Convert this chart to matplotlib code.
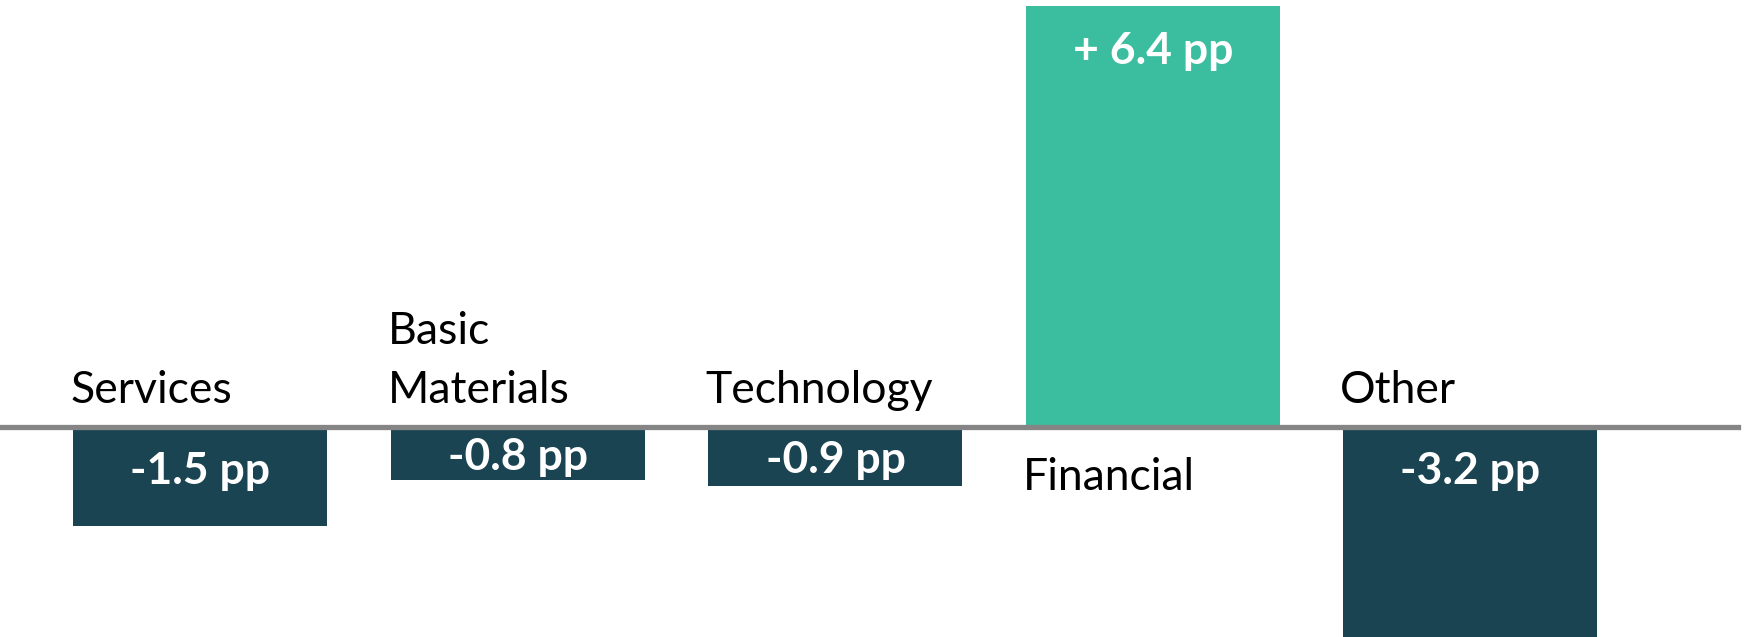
import matplotlib
matplotlib.use("Agg")
import matplotlib.pyplot as plt

# sector change in share, percentage points
sectors = ["Services", "Basic\nMaterials", "Technology", "Financial", "Other"]
changes = [-1.5, -0.8, -0.9, 6.4, -3.2]
value_labels = ["-1.5 pp", "-0.8 pp", "-0.9 pp", "+ 6.4 pp", "-3.2 pp"]

dark = "#1B4452"
green = "#3BBD9F"

plt.rcParams['font.family'] = ['Lato', 'DejaVu Sans']

fig = plt.figure(figsize=(17.47, 6.37), dpi=100)
ax = fig.add_axes([0, 0, 1, 1])

x = list(range(len(sectors)))
colors = [green if v > 0 else dark for v in changes]
ax.bar(x, changes, width=0.8, color=colors, zorder=2)

# zero line
ax.axhline(0, xmin=0, xmax=0.995, color="#858585", linewidth=3.8, zorder=3)

for i, (name, v, lab) in enumerate(zip(sectors, changes, value_labels)):
    # value inside the bar
    if v > 0:
        ly = v - 0.88
    else:
        ly = max(v / 2, -0.62) - 0.25
    ax.text(i, ly, lab, color="white", fontsize=32, fontweight="bold",
            ha="center", va="baseline", zorder=4)

    # category name on the other side of the axis
    lines = name.split("\n")
    n = len(lines)
    for j, line in enumerate(lines):
        if v > 0:
            by = -0.95 - j * 0.9
        else:
            by = 0.37 + (n - 1 - j) * 0.9
        ax.text(i - 0.41, by, line, color="black", fontsize=32,
                ha="left", va="baseline", zorder=4)

ax.set_xlim(-0.6315, 4.871)
ax.set_ylim(-3.19, 6.49)
ax.axis("off")

fig.savefig("out.png", dpi=100, facecolor="white")
